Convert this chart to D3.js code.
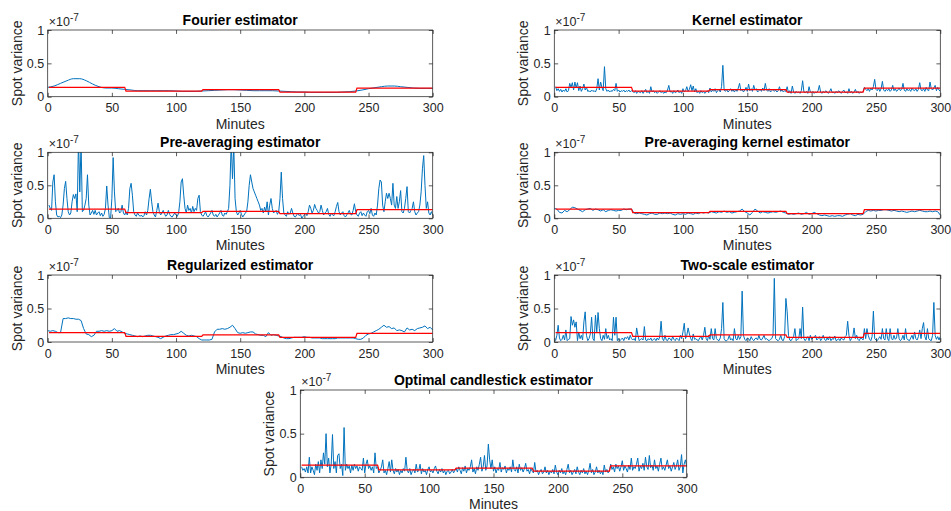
<!DOCTYPE html>
<html><head><meta charset="utf-8">
<script src="https://cdn.jsdelivr.net/npm/d3@7"></script>
<style>
body{margin:0;background:#fff;}
svg{display:block;font-family:"Liberation Sans",Arial,Helvetica,sans-serif;}
</style></head><body>
<svg id="chart" width="951" height="511"></svg>
<script>
// All values in units of 1e-9 (axis shows x10^-7)
const xTicks = [0, 50, 100, 150, 200, 250, 300];
const yTicks = [0, 50, 100];
const yTickLabels = ["0", "0.5", "1"];

// true spot variance (red step), per 60-minute block
const trueBreaks = [0, 60, 120, 180, 240, 300];
const trueLevels = [14, 8.5, 10.5, 7, 13];

const fourier = [14,16,20,24,27,27,24,19,15,13,13,12,11,10,9,9,9,9,9,9,8.5,8,8,8,8.5,9,9.5,10,10.5,10.5,10,9.5,9,9,9,9,8.5,8,7.5,7,7,6.5,6.5,6.5,6.5,6.5,7,7.5,8.5,10,12,13.5,15,16,16,15,14,13,12.5,12.5,12.5];

const kernel = [
15,9,12,8,11,7,10,8,12,7, 9,20,14,21,10,22,13,21,9,16, 8,12,19,10,14,8,9,7,10,8,
9,7,12,27,10,22,14,9,45,12, 8,10,7,9,8,11,9,20,8,10, 7,9,8,10,7,9,8,10,7,9,
8,6,9,5,8,7,6,9,5,8, 11,6,8,5,15,7,9,6,8,5, 7,9,6,8,5,7,6,10,17,7,
8,5,9,6,7,10,6,8,5,12, 7,9,15,8,11,18,9,16,7,12, 6,8,5,9,6,8,5,7,9,6,
13,7,10,8,12,6,9,11,7,15, 47,10,8,11,7,9,12,8,10,7, 11,8,13,20,9,11,7,10,14,8,
19,9,12,8,17,10,12,7,9,11, 8,13,9,20,10,8,12,7,9,11, 8,10,7,9,15,8,10,7,9,8,
15,6,9,5,16,7,5,8,6,7, 5,9,24,7,6,8,5,15,7,6, 8,5,7,6,9,17,7,5,8,6,
9,7,5,8,12,6,7,5,8,6, 9,7,5,8,10,6,7,5,12,6, 8,5,7,11,6,8,5,7,6,8,
14,11,9,12,8,13,10,15,26,11, 9,13,8,12,23,10,8,11,9,12, 8,10,17,9,12,8,10,13,9,11,
20,10,8,12,9,11,8,13,10,9, 12,8,11,21,10,9,12,8,14,10, 9,22,12,10,13,17,9,14,10,8];

const preAveraging = [
20,15,12,55,66,25,5,2,3,1, 5,20,45,56,30,10,5,8,25,36, 30,37,10,120,40,115,10,12,20,30,
66,20,5,8,12,6,12,5,8,10, 4,8,3,6,15,49,20,1,0,30, 92,40,10,12,15,8,10,20,8,5,
10,5,15,45,53,35,10,5,3,8, 5,3,5,2,4,10,5,12,30,44, 25,10,5,2,12,23,10,5,8,12,
7,3,5,12,6,3,2,5,8,5, 3,8,25,55,60,35,15,8,20,12, 15,8,18,10,15,12,30,35,10,5,
3,6,10,4,2,5,8,12,5,3, 6,2,5,8,12,5,3,8,6,10, 15,50,115,60,110,30,10,5,8,12,
6,2,5,8,10,25,50,66,55,45, 40,35,30,25,20,12,15,8,17,10, 25,5,20,30,15,8,10,12,6,10,
30,70,30,8,5,3,10,6,8,15, 8,3,2,5,8,4,6,0,3,5, 8,4,10,20,15,8,12,21,15,12,
8,10,20,12,5,8,10,15,6,3, 8,5,4,10,18,24,10,5,8,10, 4,2,5,8,12,6,5,12,22,10,
5,3,8,10,4,8,5,3,10,12, 7,15,5,3,8,5,20,45,58,55, 20,10,25,38,30,38,30,20,53,20,
15,33,15,25,42,10,8,15,30,48, 10,8,12,15,25,10,5,8,10,20, 40,75,95,50,15,25,8,5,10,5];

const preAvgKernel = [
15,14,9,8,12,10,13,17,16,14, 12,10,13,14,15,12,14,13,11,13, 10,12,13,12,11,12,12,14,13,14,
14,8,7,8,7,6,5,7,8,6, 6,8,7,8,7,8,6,5,7,6, 7,6,8,7,6,8,7,9,8,9,
8,10,9,8,10,9,11,9,10,8, 9,10,11,14,10,8,5,9,14,11, 8,10,9,8,9,10,9,10,11,9,
8,6,7,6,7,8,6,7,9,6, 7,9,7,5,4,5,4,3,4,3, 4,4,3,5,6,7,5,4,6,5,
6,10,12,11,12,11,12,12,13,13, 12,11,12,11,10,11,10,9,10,11, 10,11,12,11,10,10,11,10,11,10, 5];

const regularized = [
17,16,17,16,14,14,35,35,36,35, 35,34,34,32,20,12,11,8,10,16, 16,17,16,17,16,17,20,16,17,15,
13,12,11,10,9,8,9,8,9,10, 10,9,8,7,5,7,9,10,11,11, 12,13,16,13,10,9,10,9,8,5,
3,3,3,3,4,15,19,19,20,19, 20,22,25,20,14,13,14,13,14,15, 15,12,11,10,10,8,14,10,11,10,
9,8,6,5,5,6,7,7,7,7, 8,7,7,6,6,6,6,5,5,5, 5,5,5,6,6,6,6,6,6,6,
5,4,4,6,10,12,13,15,17,19, 22,25,22,23,20,21,17,18,17,15, 21,18,19,17,20,21,22,24,20,22, 18];

const twoScale = [
2,10,25,6,2,4,10,3,18,2, 4,5,38,25,33,22,30,2,15,5, 10,3,30,45,10,2,5,12,37,5,
2,40,15,44,20,5,2,10,4,20, 5,10,3,5,2,37,10,37,2,5, 2,4,6,2,7,5,8,3,10,5,
3,5,2,21,10,2,4,5,3,23, 3,2,5,3,6,2,4,5,2,6, 3,8,31,5,2,10,3,2,6,5,
2,8,4,2,6,4,2,10,5,15, 28,5,10,21,12,5,2,12,4,5, 3,2,6,8,3,10,22,5,2,10,
4,20,5,3,20,5,3,2,6,20, 59,5,2,2,4,10,3,5,2,20, 5,3,10,4,8,76,10,4,2,6,
5,2,8,4,2,5,6,3,10,4, 3,6,10,4,5,3,2,4,5,10, 95,5,3,2,4,10,3,2,8,65,
45,10,3,2,5,8,20,2,4,5, 20,5,52,5,2,5,8,2,10,4, 6,8,10,3,5,8,2,5,10,4,
2,6,3,8,2,5,4,9,2,3, 5,2,6,4,3,8,10,31,10,2, 5,8,21,5,10,4,2,6,5,3,
20,5,20,10,4,2,8,46,5,3, 2,5,8,4,20,5,3,20,5,2, 20,5,3,10,4,6,20,5,2,4,
10,3,20,5,3,2,6,10,4,15, 5,3,8,18,5,20,29,8,3,20, 5,3,2,10,59,10,4,8,3,8];

const candlestick = [
12,8,10,6,12,5,23,5,12,8, 3,15,8,18,5,20,10,28,15,50, 12,22,5,15,49,10,18,5,25,27,
10,15,2,57,8,15,10,13,5,14, 8,15,10,13,7,12,10,8,22,5, 15,20,10,13,8,12,5,28,10,12,
5,8,12,20,5,8,3,10,18,6, 20,8,4,10,6,9,3,8,5,10, 7,23,8,5,10,3,7,9,5,15,
6,8,15,4,10,6,8,3,9,12, 6,8,5,10,13,7,4,9,6,10, 5,8,3,7,8,4,6,9,5,8,
10,6,12,8,4,11,7,13,5,10, 8,12,20,6,10,4,12,8,15,23, 7,12,25,8,13,38,20,10,20,7,
12,5,10,8,17,6,11,9,13,5, 10,8,12,6,20,9,7,12,5,15, 8,11,6,10,16,7,9,4,10,7,
5,17,6,8,3,7,9,4,6,12, 5,8,3,7,5,9,4,14,6,3, 8,5,10,4,7,3,9,15,5,8,
3,6,9,4,12,6,3,8,5,10, 4,7,3,8,16,5,9,3,6,12, 5,8,4,7,3,14,6,9,5,8,
15,9,12,6,15,10,13,7,12,19, 8,13,10,6,14,9,22,8,12,10, 15,22,7,13,10,16,8,23,12,9,
25,11,14,8,20,10,13,7,15,22, 9,12,8,14,20,10,13,7,12,17, 9,13,20,8,12,26,5,15,20,12];

// time grids (minutes)
const minutes1 = d3.range(1, 301);
const minutes2 = d3.range(0, 301, 2);
const minutes5 = d3.range(0, 301, 5);

const titles = ["Fourier estimator","Kernel estimator","Pre-averaging estimator","Pre-averaging kernel estimator","Regularized estimator","Two-scale estimator","Optimal candlestick estimator"];

const BLUE = "#0072BD", RED = "#FF0000", AX = "#262626";

const panels = [
  {title:titles[0], left:47.7,  top:30,    w:385,   h:66.7, xs:minutes5, ys:fourier, smooth:true},
  {title:titles[1], left:554.3, top:30,    w:386,   h:66.7, xs:minutes1, ys:kernel},
  {title:titles[2], left:47.7,  top:152.3, w:385,   h:66,   xs:minutes1, ys:preAveraging},
  {title:titles[3], left:554.3, top:152.3, w:386,   h:66,   xs:minutes2, ys:preAvgKernel},
  {title:titles[4], left:47.7,  top:275,   w:385,   h:67,   xs:minutes2, ys:regularized},
  {title:titles[5], left:554.3, top:275,   w:386,   h:67,   xs:minutes1, ys:twoScale},
  {title:titles[6], left:300.3, top:390,   w:386.4, h:87.3, xs:minutes1, ys:candlestick}
];

// red step points
const truePts = [];
trueLevels.forEach((lv, i) => {
  truePts.push([i === 0 ? 1 : trueBreaks[i] + 1, lv]);
  truePts.push([trueBreaks[i + 1], lv]);
});

const svg = d3.select("#chart");

panels.forEach((p, i) => {
  const g = svg.append("g").attr("transform", `translate(${p.left},${p.top})`);
  const x = d3.scaleLinear().domain([0, 300]).range([0, p.w]);
  const y = d3.scaleLinear().domain([0, 100]).range([p.h, 0]);
  const cid = "clip" + i;
  g.append("clipPath").attr("id", cid).append("rect").attr("width", p.w).attr("height", p.h);

  const pg = g.append("g").attr("clip-path", `url(#${cid})`);
  const line = d3.line().x(d => x(d[0])).y(d => y(d[1]));
  pg.append("path")
    .datum(d3.zip(p.xs, p.ys))
    .attr("d", line.curve(p.smooth ? d3.curveMonotoneX : d3.curveLinear))
    .attr("fill", "none").attr("stroke", BLUE).attr("stroke-width", 1).attr("stroke-linejoin", "round");
  pg.append("path")
    .datum(truePts)
    .attr("d", d3.line().x(d => x(d[0])).y(d => y(d[1])))
    .attr("fill", "none").attr("stroke", RED).attr("stroke-width", 1.2);

  const tl = 3.9;
  const style = sel => {
    sel.select(".domain").remove();
    sel.selectAll(".tick line").attr("stroke", AX).attr("stroke-width", 0.75);
    sel.selectAll(".tick text").attr("fill", AX).style("font-size", "12.5px").style("font-family", '"Liberation Sans",Arial,Helvetica,sans-serif');
  };
  g.append("g").attr("transform", `translate(0,${p.h})`)
    .call(d3.axisBottom(x).tickValues(xTicks).tickSizeInner(-tl).tickSizeOuter(0).tickPadding(6.7))
    .call(style);
  g.append("g")
    .call(d3.axisTop(x).tickValues(xTicks).tickSizeInner(-tl).tickSizeOuter(0).tickFormat(""))
    .call(style);
  g.append("g")
    .call(d3.axisLeft(y).tickValues(yTicks).tickSizeInner(-tl).tickSizeOuter(0).tickPadding(3.5)
      .tickFormat((d, k) => yTickLabels[k]))
    .call(style);
  g.append("g").attr("transform", `translate(${p.w},0)`)
    .call(d3.axisRight(y).tickValues(yTicks).tickSizeInner(-tl).tickSizeOuter(0).tickFormat(""))
    .call(style);

  g.append("rect").attr("width", p.w).attr("height", p.h)
    .attr("fill", "none").attr("stroke", AX).attr("stroke-width", 0.75);

  // title
  g.append("text").attr("x", p.w / 2).attr("y", -5).attr("text-anchor", "middle")
    .attr("font-weight", "bold").attr("font-size", 14).attr("fill", "#000").text(p.title);
  // exponent
  const ex = g.append("text").attr("x", 1).attr("y", -4).attr("font-size", 12.5).attr("fill", AX);
  ex.append("tspan").text("\u00D710");
  ex.append("tspan").attr("dy", -5).attr("font-size", 10).text("-7");
  // x label
  g.append("text").attr("x", p.w / 2).attr("y", p.h + 32).attr("text-anchor", "middle")
    .attr("font-size", 14).attr("fill", AX).text("Minutes");
  // y label
  g.append("text").attr("transform", `translate(-26,${p.h / 2}) rotate(-90)`)
    .attr("text-anchor", "middle").attr("font-size", 14).attr("fill", AX).text("Spot variance");
});
</script>
</body></html>
